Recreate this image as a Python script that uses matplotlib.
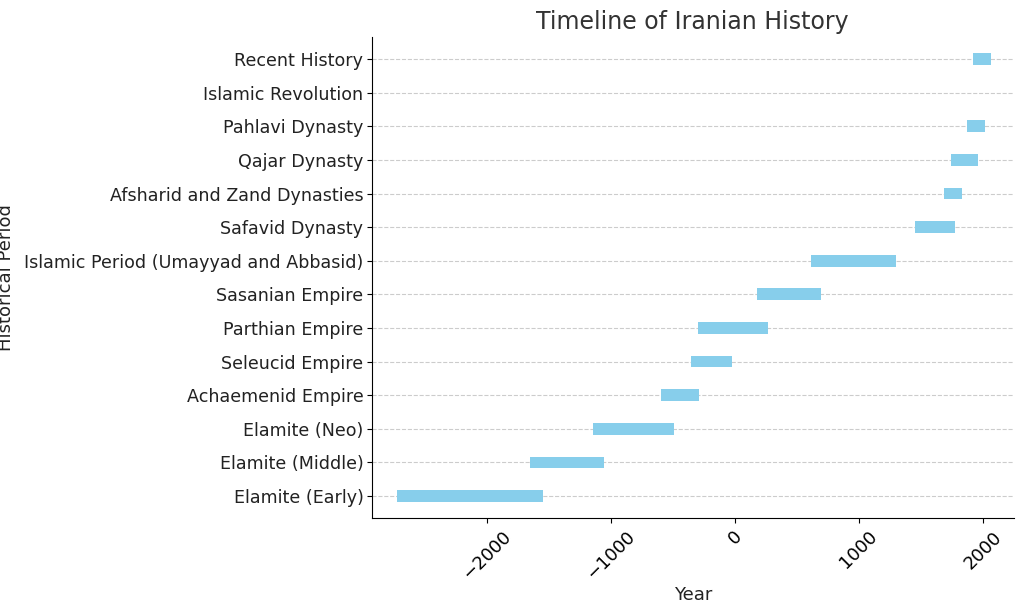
import matplotlib
matplotlib.use("Agg")
import matplotlib.pyplot as plt

# periods from bottom to top, start and end years
periods = ["Elamite (Early)", "Elamite (Middle)", "Elamite (Neo)", "Achaemenid Empire",
           "Seleucid Empire", "Parthian Empire", "Sasanian Empire",
           "Islamic Period (Umayyad and Abbasid)", "Safavid Dynasty",
           "Afsharid and Zand Dynasties", "Qajar Dynasty", "Pahlavi Dynasty",
           "Islamic Revolution", "Recent History"]
starts = [-2730, -1650, -1145, -600, -355, -300, 180, 615, 1450, 1685, 1740, 1870, 1979, 1925]
ends = [-1550, -1055, -490, -290, -25, 265, 695, 1300, 1775, 1830, 1960, 2015, 1979, 2065]

fig = plt.figure(figsize=(10.24, 6.1), dpi=100)
ax = fig.add_axes([0.363, 0.151, 0.627, 0.788])

widths = [e - s for s, e in zip(starts, ends)]
ax.barh(range(len(periods)), widths, left=starts, height=0.35, color="skyblue")

ax.set_yticks(range(len(periods)))
ax.set_yticklabels(periods, fontsize=12.6, color="#222222")
ax.tick_params(axis="y", pad=2.5)
ax.set_xlim(-2930, 2250)
ax.set_ylim(-0.65, 13.65)
ax.set_xticks([-2000, -1000, 0, 1000, 2000])
ax.tick_params(axis="x", labelsize=13, rotation=45)
ax.set_xlabel("Year", fontsize=13, color="#222222", labelpad=2)
ax.set_ylabel("Historical Period", fontsize=13, color="#222222")
ax.yaxis.set_label_coords(-0.555, 0.5)
ax.set_title("Timeline of Iranian History", fontsize=17, color="#333333")
ax.grid(axis="y", linestyle="--", color="#cccccc", linewidth=0.8)
ax.set_axisbelow(True)
ax.spines["top"].set_visible(False)
ax.spines["right"].set_visible(False)

fig.savefig("out.png", dpi=100)
